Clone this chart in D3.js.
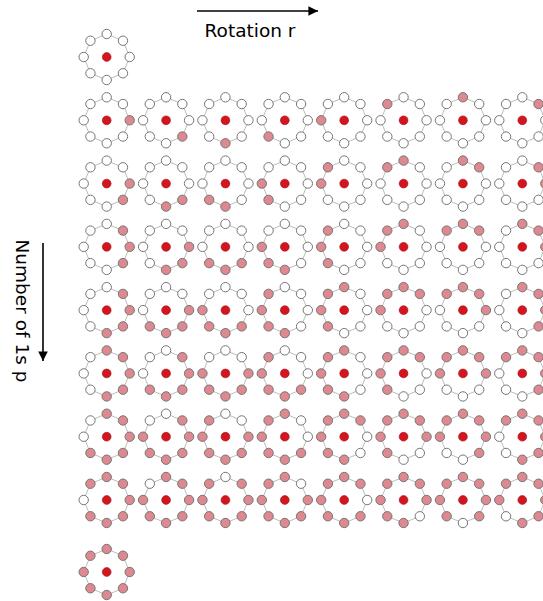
<!DOCTYPE html>
<html>
<head>
<meta charset="utf-8">
<script src="https://cdn.jsdelivr.net/npm/d3@7"></script>
<style>
  html, body { margin: 0; padding: 0; background: #fff; }
  svg { display: block; }
</style>
</head>
<body>
<svg id="chart" width="543" height="601"></svg>
<script>
// Binary necklaces of 8 beads: one row per number of 1s p, one column per rotation r.
const beadCount = 8;
const rotations = [0, 1, 2, 3, 4, 5, 6, 7];
const onesCounts = [0, 1, 2, 3, 4, 5, 6, 7, 8];
// Base word for each p; character k is bead k (bead 0 at 3 o'clock, going clockwise).
const baseWords = [
  "00000000",
  "10000000",
  "11000000",
  "11000001",
  "11100001",
  "11100011",
  "11110011",
  "11110111",
  "11111111"
];
const axisLabels = { top: "Rotation r", left: "Number of 1s p" };

const svg = d3.select("#chart");

const x = d3.scaleLinear().domain([0, 7]).range([106.7, 522.3]);
const y = d3.scaleLinear().domain([0, 7, 8]).range([57, 500, 572]);
const angle = d3.scaleLinear().domain([0, beadCount]).range([0, 2 * Math.PI]);

const ringR = 23, beadR = 4.7, hubR = 4.4;
const colors = { one: "#de8890", zero: "#ffffff", hub: "#d4141f", beadStroke: "#767676", ring: "#bdbdbd" };

function rotate(word, r) {
  return d3.range(beadCount).map(k => word[((k - r) % beadCount + beadCount) % beadCount]).join("");
}

// Build one entry per distinct rotation of each base word.
const necklaces = [];
onesCounts.forEach(p => {
  const seen = new Set();
  rotations.forEach(r => {
    const w = rotate(baseWords[p], r);
    if (seen.has(w)) return;
    seen.add(w);
    necklaces.push({ p, r, word: w });
  });
});

const beadPos = k => [ringR * Math.cos(angle(k)), ringR * Math.sin(angle(k))];
const ringLine = d3.line().curve(d3.curveLinearClosed);

const g = svg.append("g").selectAll("g.necklace")
  .data(necklaces)
  .join("g")
  .attr("class", "necklace")
  .attr("transform", d => `translate(${x(d.r)},${y(d.p)})`);

g.append("path")
  .attr("d", ringLine(d3.range(beadCount).map(beadPos)))
  .attr("fill", "none")
  .attr("stroke", colors.ring)
  .attr("stroke-width", 1);

g.append("circle")
  .attr("r", hubR)
  .attr("fill", colors.hub)
  .attr("stroke", "#a01018")
  .attr("stroke-width", 0.6);

g.selectAll("circle.bead")
  .data(d => d.word.split("").map((c, k) => ({ k, on: c === "1" })))
  .join("circle")
  .attr("class", "bead")
  .attr("cx", b => beadPos(b.k)[0])
  .attr("cy", b => beadPos(b.k)[1])
  .attr("r", beadR)
  .attr("fill", b => b.on ? colors.one : colors.zero)
  .attr("stroke", colors.beadStroke)
  .attr("stroke-width", 1);

// Direction arrows and labels
const defs = svg.append("defs");
defs.append("marker")
  .attr("id", "arrowhead")
  .attr("viewBox", "0 0 10 10")
  .attr("refX", 10).attr("refY", 5)
  .attr("markerWidth", 6).attr("markerHeight", 6)
  .attr("markerUnits", "strokeWidth")
  .attr("orient", "auto")
  .append("path")
  .attr("d", "M0,0 L10,5 L0,10 Z")
  .attr("fill", "#000");

svg.append("line")
  .attr("x1", 197).attr("y1", 11).attr("x2", 318).attr("y2", 11)
  .attr("stroke", "#000").attr("stroke-width", 1.6)
  .attr("marker-end", "url(#arrowhead)");

svg.append("text")
  .attr("x", 250).attr("y", 37)
  .attr("text-anchor", "middle")
  .attr("font-family", "DejaVu Sans, sans-serif")
  .attr("font-size", 18.5)
  .attr("fill", "#000")
  .text(axisLabels.top);

svg.append("line")
  .attr("x1", 43).attr("y1", 243).attr("x2", 43).attr("y2", 361)
  .attr("stroke", "#000").attr("stroke-width", 1.6)
  .attr("marker-end", "url(#arrowhead)");

svg.append("text")
  .attr("transform", "translate(16,311) rotate(90)")
  .attr("text-anchor", "middle")
  .attr("font-family", "DejaVu Sans, sans-serif")
  .attr("font-size", 18.5)
  .attr("fill", "#000")
  .text(axisLabels.left);
</script>
</body>
</html>
